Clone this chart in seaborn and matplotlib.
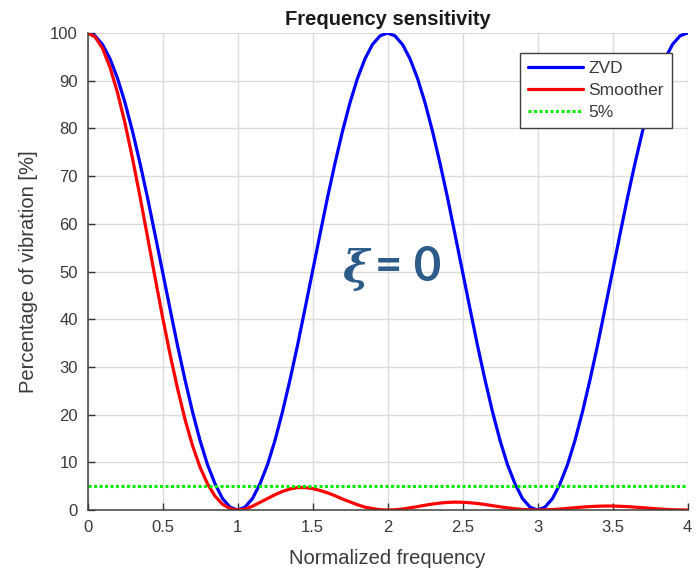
import matplotlib
matplotlib.use("Agg")
import matplotlib.pyplot as plt
import seaborn as sns
import pandas as pd

# ---- data ----
freq = [round(i * 0.05, 2) for i in range(81)]

zvd_0_1 = [100.0, 99.4, 97.6, 94.6, 90.5, 85.4, 79.4, 72.7, 65.5, 57.8, 50.0,
           42.2, 34.5, 27.3, 20.6, 14.6, 9.5, 5.5, 2.4, 0.6, 0.0]
zvd_1_2 = [0.6, 2.4, 5.5, 9.5, 14.6, 20.6, 27.3, 34.5, 42.2, 50.0,
           57.8, 65.5, 72.7, 79.4, 85.4, 90.5, 94.6, 97.6, 99.4, 100.0]
zvd_2_3 = [99.4, 97.6, 94.6, 90.5, 85.4, 79.4, 72.7, 65.5, 57.8, 50.0,
           42.2, 34.5, 27.3, 20.6, 14.6, 9.5, 5.5, 2.4, 0.6, 0.0]
zvd_3_4 = [0.6, 2.4, 5.5, 9.5, 14.6, 20.6, 27.3, 34.5, 42.2, 50.0,
           57.8, 65.5, 72.7, 79.4, 85.4, 90.5, 94.6, 97.6, 99.4, 100.0]
zvd = zvd_0_1 + zvd_1_2 + zvd_2_3 + zvd_3_4

smoother = [100.0, 99.2, 96.8, 92.8, 87.5, 81.1, 73.7, 65.7, 57.3, 48.8, 40.5,
            32.7, 25.5, 19.0, 13.5, 9.0, 5.5, 2.9, 1.2, 0.3, 0.0,
            0.2, 0.8, 1.6, 2.4, 3.2, 3.9, 4.4, 4.7, 4.7, 4.5,
            4.1, 3.6, 3.0, 2.3, 1.7, 1.1, 0.6, 0.3, 0.07, 0.0,
            0.06, 0.2, 0.45, 0.72, 1.0, 1.25, 1.46, 1.59, 1.65, 1.62,
            1.52, 1.36, 1.15, 0.91, 0.67, 0.45, 0.26, 0.12, 0.03, 0.0,
            0.03, 0.10, 0.21, 0.34, 0.48, 0.61, 0.72, 0.79, 0.83, 0.83,
            0.78, 0.71, 0.60, 0.48, 0.36, 0.24, 0.14, 0.06, 0.02, 0.0]

limit_x = [0.0, 4.0]
limit_y = [5.0, 5.0]

series_names = ["ZVD", "Smoother", "5%"]
x_ticks = [0, 0.5, 1, 1.5, 2, 2.5, 3, 3.5, 4]
x_tick_labels = ["0", "0.5", "1", "1.5", "2", "2.5", "3", "3.5", "4"]
y_ticks = [0, 10, 20, 30, 40, 50, 60, 70, 80, 90, 100]

# ---- plotting ----
sns.set_theme(style="white")
plt.rcParams["font.family"] = ["Liberation Sans", "DejaVu Sans"]

fig = plt.figure(figsize=(7.0, 5.73), dpi=100)
ax = fig.add_axes([87.5 / 700, 1 - 510 / 573, 600 / 700, 477 / 573])

df = pd.DataFrame({"freq": freq, "ZVD": zvd, "Smoother": smoother})
sns.lineplot(data=df, x="freq", y="ZVD", color="#0000ff", linewidth=2.3,
             label=series_names[0], ax=ax)
sns.lineplot(data=df, x="freq", y="Smoother", color="#ff0000", linewidth=2.3,
             label=series_names[1], ax=ax)
sns.lineplot(x=limit_x, y=limit_y, color="#00ee00", linewidth=2.2,
             linestyle=(0, (1, 0.8)), label=series_names[2], ax=ax)

ax.set_xlim(0, 4)
ax.set_ylim(0, 100)
ax.set_xticks(x_ticks)
ax.set_xticklabels(x_tick_labels)
ax.set_yticks(y_ticks)

txt = "#3a3a3a"
ax.tick_params(axis="both", direction="in", length=5, width=1, colors="#333333",
               labelsize=12, labelcolor=txt, pad=7, top=False, right=False,
               bottom=True, left=True)
ax.grid(True, color="#dcdcdc", linewidth=1)
for s in ["top", "right"]:
    ax.spines[s].set_visible(False)
for s in ["left", "bottom"]:
    ax.spines[s].set_color("#404040")
    ax.spines[s].set_linewidth(1.1)

ax.set_xlabel("Normalized frequency", fontsize=14.5, color=txt, labelpad=10)
ax.set_ylabel("Percentage of vibration [%]", fontsize=14.5, color=txt, labelpad=9)
ax.set_title("Frequency sensitivity", fontsize=14.5, fontweight="bold",
             color="#1a1a1a", pad=6)

leg = ax.legend(loc="upper left", bbox_to_anchor=(0.721, 0.958), fontsize=12.5,
                frameon=True, fancybox=False, framealpha=1, edgecolor="#404040",
                handlelength=3.2, handletextpad=0.3, borderpad=0.45,
                labelspacing=0.4, borderaxespad=0)
leg.get_frame().set_linewidth(1)
for t in leg.get_texts():
    t.set_color(txt)

ax.text(1.79, 50.5, "ξ", fontsize=32, fontweight="bold", fontstyle="italic",
        family=["DejaVu Serif"], color="#2e5c8a", ha="center", va="center")
ax.text(1.915, 51.0, "= 0", fontsize=34, fontweight="bold",
        family=["Lato", "DejaVu Sans"], color="#2e5c8a", ha="left", va="center")

fig.savefig("out.png", dpi=100)
